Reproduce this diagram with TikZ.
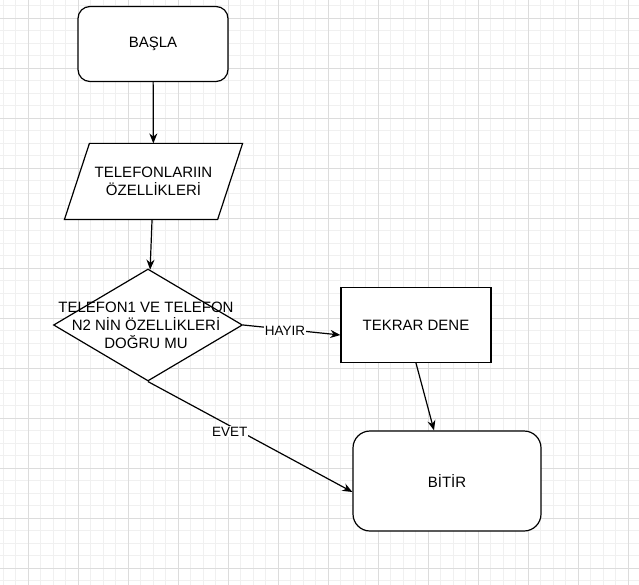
\documentclass[tikz,border=0pt]{standalone}
\usepackage{fontspec}
\setmainfont{Liberation Sans}
\usetikzlibrary{shapes.geometric,arrows.meta}
\definecolor{minorgrid}{HTML}{F0F0F0}
\definecolor{majorgrid}{HTML}{DCDCDC}

\begin{document}
\begin{tikzpicture}[
    x=1pt, y=-1pt,
    line width=1.2pt,
    every node/.style={align=center, font=\fontsize{15}{18}\selectfont},
    box/.style={draw, minimum width=150pt, minimum height=75pt},
    io/.style={minimum width=152pt, minimum height=75pt, inner sep=0pt},
    decision/.style={draw, diamond, minimum width=189pt, minimum height=112pt, inner sep=0pt},
    flow/.style={-{Stealth[length=10pt,width=8pt]}},
    answer/.style={fill=white, inner sep=1pt, font=\fontsize{13.5}{16}\selectfont}
]
\useasboundingbox (0,0) rectangle (639,585);
\fill[white] (0,0) rectangle (639,585);
\foreach \x in {3,15.5,...,639} \draw[minorgrid, line width=0.8pt] (\x,0) -- (\x,585);
\foreach \y in {5.5,18,...,585} \draw[minorgrid, line width=0.8pt] (0,\y) -- (639,\y);
\foreach \x in {28,78,...,628} \draw[majorgrid, line width=0.8pt] (\x,0) -- (\x,585);
\foreach \y in {18,68,...,568} \draw[majorgrid, line width=0.8pt] (0,\y) -- (639,\y);

\node[box, rounded corners=12pt, fill=white] (start) at (153,44) {BAŞLA};
\node[io] (input) at (153.5,181.5) {};
\draw[fill=white] ([xshift=-12.5pt]input.south west) -- ([xshift=-12.5pt]input.south east)
    -- ([xshift=12.5pt]input.north east) -- ([xshift=12.5pt]input.north west) -- cycle;
\node (inputtext) at (input) {TELEFONLARIIN\\ÖZELLİKLERİ};
\node[decision, fill=white] (check) at (148,325) {};
\node (checktext) at (146,325) {TELEFON1 VE TELEFON\\N2 NİN ÖZELLİKLERİ\\DOĞRU MU};
\node[box, fill=white] (retry) at (416,325) {TEKRAR DENE};
\node[box, rounded corners=17pt, fill=white, minimum width=188pt, minimum height=100pt] (finish) at (447,481) {BİTİR};

\draw[flow] (start) -- (input);
\draw[flow] (input) -- (check);
\draw[flow] (check.east) -- node[answer, pos=0.43, yshift=-2pt] {HAYIR} ([yshift=-10pt]retry.west);
\draw[flow] (retry.south) -- ([xshift=-13pt]finish.north);
\draw[flow] (check.south) -- node[answer, pos=0.4, yshift=-6pt] {EVET} ([yshift=-11pt]finish.west);
\end{tikzpicture}
\end{document}
